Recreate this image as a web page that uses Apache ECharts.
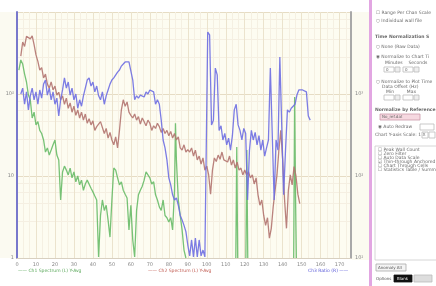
<!DOCTYPE html>
<html><head><meta charset="utf-8">
<script src="https://cdn.jsdelivr.net/npm/echarts@6/dist/echarts.min.js"></script>
<style>html,body{margin:0;padding:0;background:#fff;}#c{width:436px;height:286px;}</style>
</head><body><div id="c"></div>
<script>
// ---- data (x in chart units, y in left-axis log units) ----
const xTicks = [0,10,20,30,40,50,60,70,80,90,100,110,120,130,140,150,160,170];
const leftTickLabels = {1:'1',10:'10',100:'10²'};
const rightTickLabels = {10:'10¹',100:'10²',1000:'10³'};
const seriesNames = ['Ch1 Spectrum (L) Y-Avg','Ch2 Spectrum (L) Y-Avg','Ch3 Ratio (R)'];

const brown = [[2,290],[3,430],[4,380],[5,505],[6,525],[7,470],[8,510],[9,400],[10,300],[11,250],[12,196],[13,210],[14,157],[15,175],[16,132],[17,118],[18,140],[19,112],[20,125],[21,97],[22,105],[23,85],[24,95],[25,75],[26,89],[27,67],[28,78],[29,60],[30,71],[31,55],[32,64],[33,51],[34,60],[35,48],[36,57],[37,44],[38,50],[39,42],[40,47],[41,36],[42,40],[43,38],[44,46],[45,39],[46,33],[47,38],[48,29],[49,34],[50,27.5],[51,24],[52,30],[53,22],[54,36],[55,64],[56,85],[57,71],[58,80],[59,60],[60,55],[61,51],[62,57],[63,48],[64,53],[65,43],[66,51],[67,46],[68,41],[69,48],[70,44],[71,36],[72,41],[73,38],[74,44],[75,40],[76,34],[77,38],[78,33],[79,36],[80,31],[81,35],[82,29],[83,33],[84,27.5],[85,30],[86,22],[87,20.7],[88,24],[89,19.6],[90,21],[91,19.6],[92,22],[93,17.5],[94,20.7],[95,15.7],[96,17.5],[97,14],[98,16.6],[99,11.8],[100,13.2],[101,10.3],[102,6],[103,11.8],[104,16.6],[105,15],[106,18],[107,16],[108,19.6],[109,15.7],[110,16.6],[111,14.8],[112,17.5],[113,13.6],[114,15.7],[115,12.5],[116,14.8],[117,11.8],[118,12.5],[119,10.3],[120,11.8],[121,10.3],[122,11.2],[123,9.5],[124,10.3],[125,8],[126,9.5],[127,5.9],[128,4.4],[129,5.1],[130,3.3],[131,2.5],[132,3.1],[133,1.75],[134,2.3],[135,4.2],[136,6.7],[137,10.3],[138,20.7],[139,36],[140,15.7],[141,5.1],[142,2.3],[143,6.7],[144,10.3],[145,7.8],[146,13],[147,10],[148,6],[149,4.6]];

const blue = [[2,100],[3,118],[4,75],[5,106],[6,64],[7,95],[8,118],[9,85],[10,106],[11,75],[12,112],[13,89],[14,132],[15,148],[16,97],[17,118],[18,85],[19,106],[20,75],[21,89],[22,54],[23,85],[24,112],[25,157],[26,118],[27,140],[28,97],[29,118],[30,85],[31,100],[32,67],[33,85],[34,71],[35,95],[36,118],[37,148],[38,157],[39,125],[40,140],[41,106],[42,125],[43,95],[44,85],[45,106],[46,75],[47,95],[48,112],[49,132],[50,148],[51,157],[52,166],[53,185],[54,196],[55,219],[56,232],[57,246],[58,260],[59,246],[60,240],[61,148],[62,85],[63,95],[64,89],[65,97],[66,100],[67,92],[68,106],[69,100],[70,112],[71,118],[72,106],[73,75],[74,85],[75,75],[76,48],[77,27.5],[78,22],[79,15.7],[80,9.5],[81,7.8],[82,5.9],[83,5.1],[84,5.4],[85,4.4],[86,3.3],[87,2.9],[88,2.5],[89,2.1],[90,1.44],[91,1.06],[92,1.66],[93,1.03],[94,1.75],[95,1.03],[96,1.66],[97,1.06],[98,1.25],[99,1.03],[100.5,570],[101.5,525],[102.5,42],[103.5,48],[104.5,207],[105.5,171],[106.5,36],[107.5,41],[108.5,27.5],[109.5,33],[110.5,24],[111.5,29],[112.5,20.7],[113.5,31],[114.5,64],[115.5,75],[116.5,42],[117.5,36],[118.5,27.5],[119.5,38],[120.5,33],[121.5,5.1],[122.5,20.7],[123.5,36],[124.5,27.5],[125.5,34],[126.5,24],[127.5,31],[128.5,20.7],[129.5,27.5],[130.5,17.5],[131.5,22],[132.5,27.5],[133.5,207],[134.5,213],[135.5,5.1],[136.5,27.5],[137.5,20.7],[138.5,283],[139.5,299],[140.5,5.9],[141.5,20.7],[142.5,64],[143.5,60],[144.5,67],[145.5,64],[146.5,75],[147.5,97],[148.5,112],[149.5,118],[150.5,112],[151.5,112],[152.5,106],[153.5,54],[154.5,48]];

const green = [[1,196],[2,260],[3,232],[4,175],[5,140],[6,97],[7,85],[8,51],[9,60],[10,42],[11,46],[12,36],[13,33],[14,27.5],[15,19.6],[16,22],[17,18],[18,20.7],[19,24],[20,27.5],[21,18],[22,15.7],[23,5.1],[24,11.2],[25,13.2],[26,11.8],[27,10.3],[28,12.5],[29,9.5],[30,11.2],[31,8.5],[32,10],[33,7.8],[34,8.9],[35,6.7],[36,8],[37,8.9],[38,8.5],[39,7.1],[40,6.4],[41,5.7],[42,5.1],[43,1.03],[44,3.3],[45,5.1],[46,3.8],[47,4.4],[48,2.9],[49,1.8],[50,5.1],[51,12.5],[52,11.8],[53,9.5],[54,7.8],[55,8.5],[56,6.7],[57,6],[58,5.4],[59,2.2],[60,4.4],[61,1.66],[62,1.03],[63,3.8],[64,5.9],[65,6.7],[66,7.5],[67,8.9],[68,11.2],[69,11.8],[70,9.5],[71,8],[72,8.5],[73,5.9],[74,5.1],[75,4.2],[76,3.8],[77,5.1],[78,3.3],[79,3.1],[80,2.75],[81,3.1],[82,2.2],[83,6.7],[83.5,44],[84,15.7],[85,5.1],[86,3.3],[87,2.2],[88,1.25],[89,1],[89.5,'-'],[115.3,1],[115.8,22.6],[116.3,1],[116.8,'-'],[120.6,1],[121.1,20.7],[121.6,1],[122,'-'],[145.8,1],[146.3,92],[146.8,5],[147.2,1]];

// ---- panel texts ----
const panelTexts = [
 ['☐ Range Per Chan Scale',376,13,false],
 ['○ Individual wall file',376,21,false],
 ['Time Normalization S',375,37,true],
 ['○ None (Raw Data)',376,47,false],
 ['◉ Normalize to Chart Ti',376,57,false],
 ['Minutes    Seconds',385,63,false],
 ['○ Normalize to Plot Time',376,82,false],
 ['Data Offset (Hz)',382,87,false],
 ['Min         Max',386,92,false],
 ['Normalize by Reference',375,110,true],
 ['◉ Auto Redraw',378,127,false],
 ['Chart Y-axis Scale: 1 X',375,135,false],
 ['☐ Peak Wall Count',378,150,false],
 ['☐ Zero Filter',378,154,false],
 ['☐ Auto Data Scale',378,158,false],
 ['☑ Thin-through Anchored',378,162,false],
 ['☐ Chart Through Cells',378,166,false],
 ['☐ Statistics Table / Summ',378,170,false]
];

const chart = echarts.init(document.getElementById('c'), null, {renderer:'canvas'});
const gText = panelTexts.map(t => ({type:'text', z:10, style:{text:t[0], x:t[1], y:t[2], fill:'#6a6a6a', font:(t[3]?'bold ':'')+'4.5px "DejaVu Sans"', verticalAlign:'middle'}}));
function box(x,y,w,h,fill,stroke){return {type:'rect',z:9,shape:{x:x,y:y,width:w,height:h},style:{fill:fill,stroke:stroke||'#bbb',lineWidth:0.8}};}

chart.setOption({
  animation:false,
  backgroundColor:'#ffffff',
  grid:{left:17,right:85,top:12,bottom:28,show:true,backgroundColor:'#fdfcf1',borderWidth:0},
  xAxis:{type:'value',min:0,max:176,interval:10,
    axisLine:{show:true,lineStyle:{color:'#d8d0c0',width:1}},
    axisTick:{show:false},
    axisLabel:{fontSize:5,color:'#888',margin:4,showMaxLabel:false,fontFamily:'DejaVu Sans'},
    splitLine:{show:true,lineStyle:{color:'#ebe3cd',width:1}},
    minorTick:{show:false,splitNumber:3},
    minorSplitLine:{show:true,lineStyle:{color:'#f5f0e2',width:1}}},
  yAxis:[
   {type:'log',logBase:10,min:1,max:1000,position:'left',
    axisLine:{show:true,lineStyle:{color:'#7878cc',width:2}},
    axisTick:{show:false},
    axisLabel:{fontSize:5,color:'#888',margin:3,showMaxLabel:false,fontFamily:'DejaVu Sans',formatter:v=>leftTickLabels[Math.round(v)]||''},
    splitLine:{show:true,lineStyle:{color:'#e6dcc4',width:1}},
    minorTick:{show:false,splitNumber:5},
    minorSplitLine:{show:true,lineStyle:{color:'#f5efe2',width:1}}},
   {type:'log',logBase:10,min:10,max:10000,position:'right',
    axisLine:{show:true,lineStyle:{color:'#a8a8a8',width:2}},
    axisTick:{show:false},
    axisLabel:{fontSize:5,color:'#888',margin:4,showMaxLabel:false,fontFamily:'DejaVu Sans',formatter:v=>rightTickLabels[Math.round(v)]||''},
    splitLine:{show:false}}
  ],
  series:[
   {name:seriesNames[0],type:'line',data:green,showSymbol:false,connectNulls:false,lineStyle:{color:'#68bb68',width:1.3,opacity:0.9},z:2},
   {name:seriesNames[1],type:'line',data:brown,showSymbol:false,lineStyle:{color:'#b27470',width:1.3,opacity:0.9},z:3},
   {name:seriesNames[2],type:'line',data:blue,showSymbol:false,lineStyle:{color:'#6e6ee2',width:1.3,opacity:0.9},z:4}
  ],
  graphic:[
   {type:'rect',z:0,shape:{x:0,y:12,width:17,height:246},style:{fill:'#fbfaf1'}},
   {type:'rect',z:0,shape:{x:352,y:12,width:17,height:248},style:{fill:'#fbfaf0'}},
   {type:'rect',z:5,shape:{x:369,y:0,width:3,height:286},style:{fill:'#e2a6e2'}},
   {type:'text',z:10,style:{text:'—— '+seriesNames[0],x:18,y:271,fill:'#5aa85a',font:'4.5px "DejaVu Sans"',verticalAlign:'middle'}},
   {type:'text',z:10,style:{text:'—— '+seriesNames[1],x:148,y:271,fill:'#c05a50',font:'4.5px "DejaVu Sans"',verticalAlign:'middle'}},
   {type:'text',z:10,style:{text:seriesNames[2]+' ——',x:308,y:271,fill:'#5a5ad8',font:'4.5px "DejaVu Sans"',verticalAlign:'middle'}},
   box(384,67,10,5,'#fff'),box(395,67,5,5,'#eee'),box(403,67,10,5,'#fff'),box(414,67,5,5,'#eee'),
   box(384,95,10,5,'#fff'),box(395,95,5,5,'#eee'),box(403,95,10,5,'#fff'),box(414,95,5,5,'#eee'),
   box(380,114,40,6,'#f6d8e0','#c9a'),
   box(420,124,14,6,'#fff'),
   box(422,132,6,6,'#fff'),box(429,132,6,6,'#fff'),
   {type:'rect',z:8,shape:{x:375,y:146,width:62,height:114},style:{fill:'#fff',stroke:'#ccc',lineWidth:0.8}},
   box(376,264,30,7,'#f4f4f4','#aaa'),
   box(394,275,18,7,'#111','#111'),box(414,275,18,7,'#ddd','#bbb'),
   {type:'text',z:10,style:{text:'Anomaly All',x:378,y:267.5,fill:'#555',font:'4px "DejaVu Sans"',verticalAlign:'middle'}},
   {type:'text',z:10,style:{text:'Options',x:376,y:278.5,fill:'#555',font:'4px "DejaVu Sans"',verticalAlign:'middle'}},
   {type:'text',z:11,style:{text:'Blank',x:397,y:278.5,fill:'#eee',font:'4px "DejaVu Sans"',verticalAlign:'middle'}},
   {type:'text',z:10,style:{text:'0',x:386,y:69.5,fill:'#666',font:'4px "DejaVu Sans"',verticalAlign:'middle'}},
   {type:'text',z:10,style:{text:'0',x:405,y:69.5,fill:'#666',font:'4px "DejaVu Sans"',verticalAlign:'middle'}},
   {type:'text',z:10,style:{text:'No_ref.dat',x:382,y:117,fill:'#666',font:'4px "DejaVu Sans"',verticalAlign:'middle'}}
  ].concat(gText)
});
</script></body></html>
